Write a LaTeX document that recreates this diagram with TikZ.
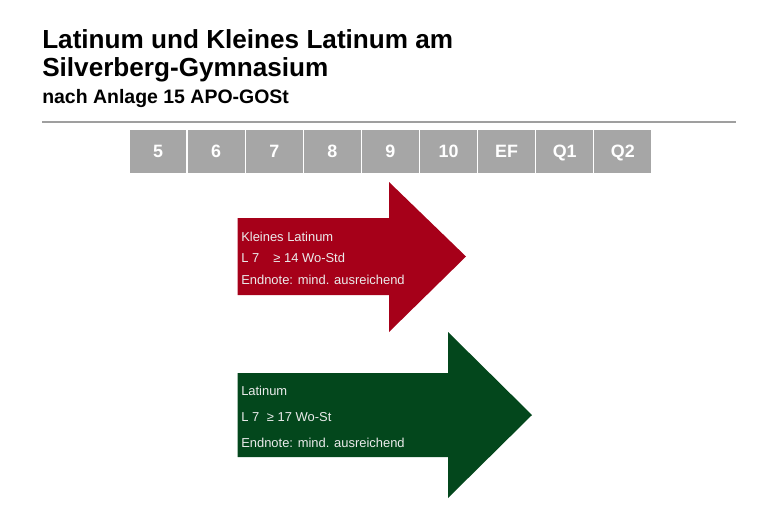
\documentclass[tikz,border=0pt]{standalone}
\usepackage{fontspec}
\setmainfont{Liberation Sans}
\usepackage{tikz}
\usetikzlibrary{calc}
\definecolor{kleinrot}{RGB}{166,0,25}
\definecolor{latgruen}{RGB}{3,71,28}
\definecolor{stufengrau}{RGB}{166,166,166}

\begin{document}
\begin{tikzpicture}[x=0.75pt, y=-0.75pt,
		stufe/.style={fill=stufengrau, draw=white, line width=0.9pt, text=white, font=\fontsize{13.4}{15}\selectfont\bfseries, minimum width=43.6pt, minimum height=33.75pt, inner sep=0pt, text height=9.6pt, text depth=0pt},
		pfeiltext/.style={anchor=base west, text=white!92!black, font=\fontsize{9.7}{12}\selectfont, inner sep=0pt}]
		\useasboundingbox (0,0) rectangle (768,529);

		\node[anchor=base west, inner sep=0pt, font=\fontsize{19.6}{23}\selectfont\bfseries] (t1) at (42,48) {Latinum und Kleines Latinum am};
		\node[anchor=base west, inner sep=0pt, font=\fontsize{19.6}{23}\selectfont\bfseries] (t2) at (42,76) {Silverberg-Gymnasium};
		\node[anchor=base west, inner sep=0pt, font=\fontsize{14.6}{17}\selectfont\bfseries] (t3) at (42,103) {nach Anlage 15 APO-GOSt};

		\draw[gray!75, line width=1.1pt] (42,122) -- (736,122);

		\foreach \g [count=\i] in {5,6,7,8,9,10,EF,Q1,Q2}
			\node[stufe] (s\i) at ({129+58.1*(\i-0.5)},151.5) {\g};

		% kleines Latinum
		\coordinate (K) at (237.5,218);
		\fill[kleinrot] (K) -- (389,218) -- (389,182) -- (466,256.5) -- (389,332) -- (389,295) -- (237.5,295) -- cycle;
		\node[pfeiltext] (k1) at (241,241) {Kleines Latinum};
		\node[pfeiltext] (k2) at (241,262) {L 7\hspace{1.1em}≥ 14 Wo-Std};
		\node[pfeiltext] (k3) at (241,284) {Endnote: mind. ausreichend};

		% Latinum
		\coordinate (L) at (237.5,373);
		\fill[latgruen] (L) -- (448,373) -- (448,332) -- (532,415) -- (448,498) -- (448,457) -- (237.5,457) -- cycle;
		\node[pfeiltext] (l1) at (241,395) {Latinum};
		\node[pfeiltext] (l2) at (241,421) {L 7\hspace{0.6em}≥ 17 Wo-St};
		\node[pfeiltext] (l3) at (241,447) {Endnote: mind. ausreichend};
	\end{tikzpicture}
\end{document}
